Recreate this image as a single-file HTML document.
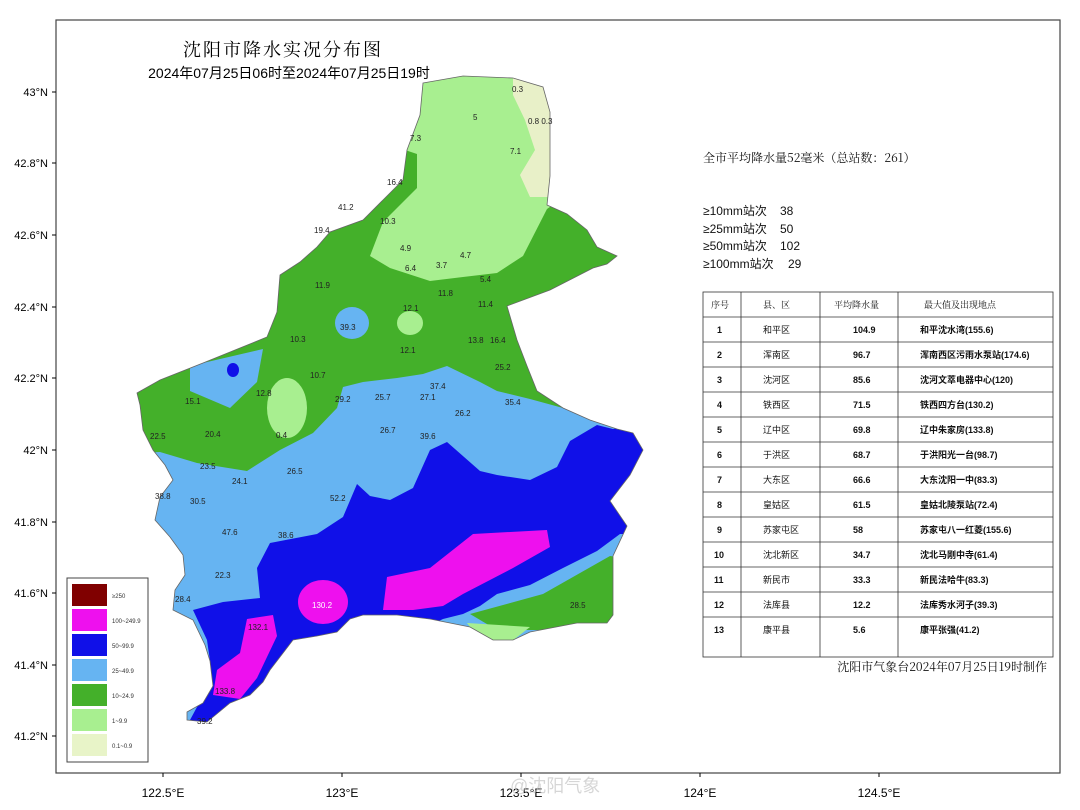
<!DOCTYPE html>
<html><head><meta charset="utf-8"><style>
body{margin:0;background:#fff;width:1080px;height:810px;overflow:hidden}
svg{display:block}
text{font-family:"Liberation Sans","Noto Sans CJK SC",sans-serif}
.s{font-family:"Noto Serif CJK SC","Noto Sans CJK SC",serif}
</style></head><body>
<svg width="1080" height="810" viewBox="0 0 1080 810">
<defs>
<clipPath id="c"><path id="bd" d="M423,83 L463,76 L513,78 L543,87 L550,112 L550,176 L547,205 L567,214 L587,230 L597,247 L617,256 L607,264 L593,268 L550,290 L507,306 L517,340 L527,366 L537,391 L563,408 L590,420 L617,429 L633,433 L643,450 L630,475 L610,501 L627,526 L613,556 L613,615 L607,623 L577,623 L530,632 L513,640 L493,640 L470,627 L430,619 L397,615 L363,615 L350,619 L337,632 L317,636 L293,640 L270,670 L263,682 L250,695 L230,703 L207,722 L187,720 L187,712 L203,703 L213,686 L210,661 L205,645 L193,620 L183,615 L173,610 L175,590 L185,575 L183,555 L170,537 L155,520 L160,497 L173,480 L165,465 L153,450 L143,430 L140,405 L137,393 L160,380 L203,363 L240,348 L267,337 L277,312 L280,275 L300,262 L317,247 L330,232 L363,220 L383,200 L403,180 L407,150 L420,115 Z"/></clipPath>
</defs>
<rect x="56" y="20" width="1004" height="753" fill="#fff" stroke="#444" stroke-width="1.2"/>
<g clip-path="url(#c)">
<rect x="100" y="60" width="600" height="700" fill="#44b02a"/>
<path d="M405,60 L600,60 L560,200 L547,209 L523,256 L497,273 L463,277 L430,281 L390,268 L370,256 L383,222 L417,188 L417,154 L405,150 Z" fill="#a8ef90"/>
<path d="M513,60 L560,60 L560,197 L530,197 L520,175 L535,150 L525,120 L513,95 Z" fill="#e8f0c8"/>
<ellipse cx="343" cy="194" rx="23" ry="24" fill="#66b4f2"/>
<ellipse cx="352" cy="323" rx="17" ry="16" fill="#66b4f2"/>
<ellipse cx="410" cy="323" rx="13" ry="12" fill="#a8ef90"/>
<ellipse cx="287" cy="408" rx="20" ry="30" fill="#a8ef90"/>
<path d="M190,366 L263,349 L257,382 L230,408 L190,391 Z" fill="#66b4f2"/>
<path d="M100,455 L160,452 L197,463 L247,471 L280,450 L313,433 L337,408 L343,387 L363,382 L397,378 L423,374 L447,366 L480,382 L497,391 L530,399 L563,408 L597,420 L660,420 L660,760 L100,760 Z" fill="#66b4f2"/>
<path d="M357,484 L370,496 L390,500 L413,488 L430,450 L447,442 L480,471 L497,475 L530,480 L557,467 L570,441 L597,425 L613,429 L660,420 L660,534 L620,534 L597,551 L563,568 L530,585 L497,594 L480,606 L463,614 L443,619 L400,640 L300,660 L230,740 L180,740 L190,720 L197,707 L213,686 L210,661 L207,640 L193,610 L223,602 L260,598 L257,568 L270,543 L317,534 L343,517 Z" fill="#1010e8"/>
<path d="M543,594 L610,556 L640,560 L640,630 L563,630 L497,630 L470,614 Z" fill="#44b02a"/>
<path d="M467,623 L530,627 L507,645 L480,640 Z" fill="#a8ef90"/>
<path d="M473,534 L547,530 L550,547 L513,568 L463,594 L443,606 L413,610 L383,610 L387,577 L430,568 Z" fill="#ee10ee"/>
<ellipse cx="323" cy="602" rx="25" ry="22" fill="#ee10ee"/>
<path d="M247,619 L273,615 L277,636 L257,678 L240,699 L213,695 L217,670 L240,653 Z" fill="#ee10ee"/>
<ellipse cx="233" cy="370" rx="6" ry="7" fill="#1010e8"/>
</g>
<use href="#bd" fill="none" stroke="#666" stroke-width="0.8"/>
<g font-size="8" fill="#222" class="s">
<text x="512" y="92">0.3</text><text x="473" y="120">5</text><text x="528" y="124">0.8 0.3</text>
<text x="410" y="141">7.3</text><text x="510" y="154">7.1</text><text x="387" y="185">16.4</text>
<text x="338" y="210">41.2</text><text x="380" y="224">10.3</text><text x="314" y="233">19.4</text>
<text x="400" y="251">4.9</text><text x="460" y="258">4.7</text><text x="436" y="268">3.7</text>
<text x="405" y="271">6.4</text><text x="480" y="282">5.4</text><text x="315" y="288">11.9</text>
<text x="438" y="296">11.8</text><text x="478" y="307">11.4</text><text x="403" y="311">12.1</text>
<text x="340" y="330">39.3</text><text x="290" y="342">10.3</text><text x="400" y="353">12.1</text>
<text x="468" y="343">13.8</text><text x="490" y="343">16.4</text><text x="495" y="370">25.2</text>
<text x="310" y="378">10.7</text><text x="256" y="396">12.8</text><text x="185" y="404">15.1</text>
<text x="335" y="402">29.2</text><text x="375" y="400">25.7</text><text x="430" y="389">37.4</text>
<text x="420" y="400">27.1</text><text x="455" y="416">26.2</text><text x="505" y="405">35.4</text>
<text x="276" y="438">0.4</text><text x="205" y="437">20.4</text><text x="150" y="439">22.5</text>
<text x="380" y="433">26.7</text><text x="420" y="439">39.6</text><text x="200" y="469">23.5</text>
<text x="232" y="484">24.1</text><text x="287" y="474">26.5</text><text x="155" y="499">38.8</text>
<text x="190" y="504">30.5</text><text x="330" y="501">52.2</text><text x="222" y="535">47.6</text>
<text x="278" y="538">38.6</text><text x="215" y="578">22.3</text><text x="175" y="602">28.4</text>
<text x="312" y="608" fill="#fff">130.2</text><text x="248" y="630">132.1</text>
<text x="215" y="694">133.8</text><text x="197" y="724">39.2</text><text x="570" y="608">28.5</text>
</g>
<g font-size="11" fill="#000">
<line x1="52" y1="92" x2="56" y2="92" stroke="#000"/><text x="48" y="96" text-anchor="end">43°N</text>
<line x1="52" y1="163" x2="56" y2="163" stroke="#000"/><text x="48" y="167" text-anchor="end">42.8°N</text>
<line x1="52" y1="235" x2="56" y2="235" stroke="#000"/><text x="48" y="239" text-anchor="end">42.6°N</text>
<line x1="52" y1="307" x2="56" y2="307" stroke="#000"/><text x="48" y="311" text-anchor="end">42.4°N</text>
<line x1="52" y1="378" x2="56" y2="378" stroke="#000"/><text x="48" y="382" text-anchor="end">42.2°N</text>
<line x1="52" y1="450" x2="56" y2="450" stroke="#000"/><text x="48" y="454" text-anchor="end">42°N</text>
<line x1="52" y1="522" x2="56" y2="522" stroke="#000"/><text x="48" y="526" text-anchor="end">41.8°N</text>
<line x1="52" y1="593" x2="56" y2="593" stroke="#000"/><text x="48" y="597" text-anchor="end">41.6°N</text>
<line x1="52" y1="665" x2="56" y2="665" stroke="#000"/><text x="48" y="669" text-anchor="end">41.4°N</text>
<line x1="52" y1="736" x2="56" y2="736" stroke="#000"/><text x="48" y="740" text-anchor="end">41.2°N</text>
<line x1="163" y1="773" x2="163" y2="777" stroke="#000"/><text x="163" y="797" text-anchor="middle" font-size="12">122.5°E</text>
<line x1="342" y1="773" x2="342" y2="777" stroke="#000"/><text x="342" y="797" text-anchor="middle" font-size="12">123°E</text>
<line x1="521" y1="773" x2="521" y2="777" stroke="#000"/><text x="521" y="797" text-anchor="middle" font-size="12">123.5°E</text>
<line x1="700" y1="773" x2="700" y2="777" stroke="#000"/><text x="700" y="797" text-anchor="middle" font-size="12">124°E</text>
<line x1="879" y1="773" x2="879" y2="777" stroke="#000"/><text x="879" y="797" text-anchor="middle" font-size="12">124.5°E</text>
</g>
<text x="283" y="56" text-anchor="middle" font-size="18" class="s" letter-spacing="2">沈阳市降水实况分布图</text>
<text x="289" y="78" text-anchor="middle" font-size="14">2024年07月25日06时至2024年07月25日19时</text>
<rect x="67" y="578" width="81" height="184" fill="#fff" stroke="#444"/>
<g font-size="6" fill="#333">
<rect x="72" y="584" width="35" height="22" fill="#800000"/><text x="112" y="598">≥250</text>
<rect x="72" y="609" width="35" height="22" fill="#ee10ee"/><text x="112" y="623">100~249.9</text>
<rect x="72" y="634" width="35" height="22" fill="#1010e8"/><text x="112" y="648">50~99.9</text>
<rect x="72" y="659" width="35" height="22" fill="#66b4f2"/><text x="112" y="673">25~49.9</text>
<rect x="72" y="684" width="35" height="22" fill="#44b02a"/><text x="112" y="698">10~24.9</text>
<rect x="72" y="709" width="35" height="22" fill="#a8ef90"/><text x="112" y="723">1~9.9</text>
<rect x="72" y="734" width="35" height="22" fill="#e8f4c8"/><text x="112" y="748">0.1~0.9</text>
</g>
<g font-size="12" fill="#111">
<text x="703" y="162" class="s">全市平均降水量52毫米（总站数：261）</text>
<text x="703" y="215">≥10mm站次</text><text x="780" y="215">38</text>
<text x="703" y="233">≥25mm站次</text><text x="780" y="233">50</text>
<text x="703" y="250">≥50mm站次</text><text x="780" y="250">102</text>
<text x="703" y="268">≥100mm站次</text><text x="788" y="268">29</text>
<text x="1047" y="671" text-anchor="end" class="s">沈阳市气象台2024年07月25日19时制作</text>
</g>
<g stroke="#333" stroke-width="0.8" fill="none">
<rect x="703" y="292" width="350" height="365"/>
<line x1="741" y1="292" x2="741" y2="657"/><line x1="820" y1="292" x2="820" y2="657"/><line x1="898" y1="292" x2="898" y2="657"/>
<line x1="703" y1="317" x2="1053" y2="317"/><line x1="703" y1="342" x2="1053" y2="342"/><line x1="703" y1="367" x2="1053" y2="367"/><line x1="703" y1="392" x2="1053" y2="392"/><line x1="703" y1="417" x2="1053" y2="417"/><line x1="703" y1="442" x2="1053" y2="442"/><line x1="703" y1="467" x2="1053" y2="467"/><line x1="703" y1="492" x2="1053" y2="492"/><line x1="703" y1="517" x2="1053" y2="517"/><line x1="703" y1="542" x2="1053" y2="542"/><line x1="703" y1="567" x2="1053" y2="567"/><line x1="703" y1="592" x2="1053" y2="592"/><line x1="703" y1="617" x2="1053" y2="617"/>
</g>
<g font-size="9" fill="#111">
<text x="711" y="308" class="s">序号</text><text x="763" y="308" class="s">县、区</text><text x="834" y="308" class="s">平均降水量</text><text x="924" y="308" class="s">最大值及出现地点</text>
</g>
<g font-size="9" fill="#111" font-weight="bold">
<text x="717" y="333">1</text><text x="763" y="333" font-weight="normal">和平区</text><text x="853" y="333">104.9</text><text x="920" y="333">和平沈水湾(155.6)</text>
<text x="717" y="358">2</text><text x="763" y="358" font-weight="normal">浑南区</text><text x="853" y="358">96.7</text><text x="920" y="358">浑南西区污雨水泵站(174.6)</text>
<text x="717" y="383">3</text><text x="763" y="383" font-weight="normal">沈河区</text><text x="853" y="383">85.6</text><text x="920" y="383">沈河文萃电器中心(120)</text>
<text x="717" y="408">4</text><text x="763" y="408" font-weight="normal">铁西区</text><text x="853" y="408">71.5</text><text x="920" y="408">铁西四方台(130.2)</text>
<text x="717" y="433">5</text><text x="763" y="433" font-weight="normal">辽中区</text><text x="853" y="433">69.8</text><text x="920" y="433">辽中朱家房(133.8)</text>
<text x="717" y="458">6</text><text x="763" y="458" font-weight="normal">于洪区</text><text x="853" y="458">68.7</text><text x="920" y="458">于洪阳光一台(98.7)</text>
<text x="717" y="483">7</text><text x="763" y="483" font-weight="normal">大东区</text><text x="853" y="483">66.6</text><text x="920" y="483">大东沈阳一中(83.3)</text>
<text x="717" y="508">8</text><text x="763" y="508" font-weight="normal">皇姑区</text><text x="853" y="508">61.5</text><text x="920" y="508">皇姑北陵泵站(72.4)</text>
<text x="717" y="533">9</text><text x="763" y="533" font-weight="normal">苏家屯区</text><text x="853" y="533">58</text><text x="920" y="533">苏家屯八一红菱(155.6)</text>
<text x="714" y="558">10</text><text x="763" y="558" font-weight="normal">沈北新区</text><text x="853" y="558">34.7</text><text x="920" y="558">沈北马刚中寺(61.4)</text>
<text x="714" y="583">11</text><text x="763" y="583" font-weight="normal">新民市</text><text x="853" y="583">33.3</text><text x="920" y="583">新民法哈牛(83.3)</text>
<text x="714" y="608">12</text><text x="763" y="608" font-weight="normal">法库县</text><text x="853" y="608">12.2</text><text x="920" y="608">法库秀水河子(39.3)</text>
<text x="714" y="633">13</text><text x="763" y="633" font-weight="normal">康平县</text><text x="853" y="633">5.6</text><text x="920" y="633">康平张强(41.2)</text>
</g>
<text x="510" y="792" font-size="18" fill="#bbb" opacity="0.6">@沈阳气象</text>
</svg>
</body></html>
